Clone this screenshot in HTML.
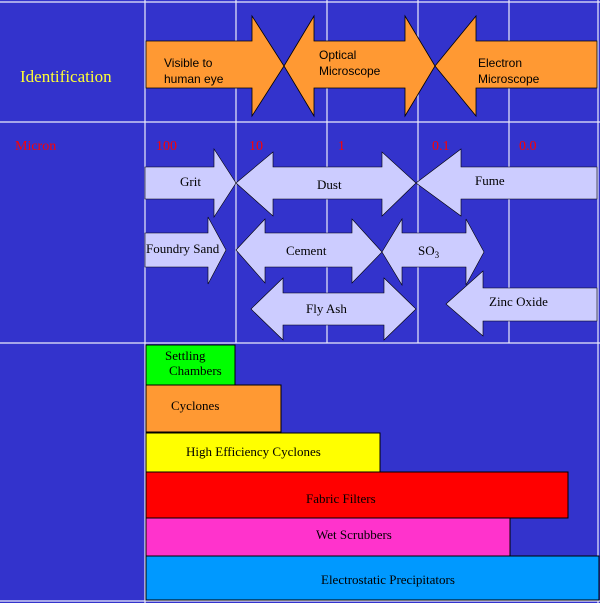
<!DOCTYPE html>
<html><head><meta charset="utf-8"><style>
html,body{margin:0;padding:0;background:#3333cc;}
svg{display:block;}
text{font-family:"Liberation Serif",serif;}
.s{font-family:"Liberation Sans",sans-serif;}
</style></head><body>
<svg width="600" height="603" viewBox="0 0 600 603" xmlns="http://www.w3.org/2000/svg">
<rect x="0" y="0" width="600" height="603" fill="#3333cc"/>
<g stroke="#ffffff" stroke-width="1.2" opacity="0.9">
<line x1="0" y1="2" x2="600" y2="2"/>
<line x1="0" y1="122" x2="600" y2="122"/>
<line x1="0" y1="343" x2="600" y2="343"/>
<line x1="0" y1="601" x2="600" y2="601"/>
<line x1="145" y1="0" x2="145" y2="603"/>
<line x1="236" y1="0" x2="236" y2="343"/>
<line x1="327" y1="0" x2="327" y2="343"/>
<line x1="418" y1="0" x2="418" y2="343"/>
<line x1="509" y1="0" x2="509" y2="343"/>
<line x1="598" y1="0" x2="598" y2="603"/>
</g>
<text x="20" y="82" font-size="17" fill="#ffff33">Identification</text>
<g fill="#ff9933" stroke="#000" stroke-width="0.8">
<polygon points="146,41 252,41 252,16 284,66 252,116 252,88 146,88"/>
<polygon points="284,66 314,16 314,41 405,41 405,16 435,66 405,116 405,88 314,88 314,116"/>
<polygon points="435,66 476,16 476,41 597,41 597,88 476,88 476,116"/>
</g>
<g font-size="12" fill="#000" class="s">
<text class="s" x="164" y="67">Visible to</text><text class="s" x="164" y="83">human eye</text>
<text class="s" x="319" y="59">Optical</text><text class="s" x="319" y="75">Microscope</text>
<text class="s" x="478" y="67">Electron</text><text class="s" x="478" y="83">Microscope</text>
</g>
<g font-size="14" fill="#ff0000">
<text x="15" y="150">Micron</text>
<text x="156" y="150">100</text>
<text x="249" y="150">10</text>
<text x="338" y="150">1</text>
<text x="432" y="150">0.1</text>
<text x="519" y="150">0.0</text>
</g>
<g fill="#ccccff" stroke="#000" stroke-width="0.6">
<polygon points="145,167 214,167 214,149 236,183 214,217 214,199 145,199"/>
<polygon points="236,183 273,152 273,167 382,167 382,152 416,183 382,216 382,199 273,199 273,216"/>
<polygon points="416,183 461,149 461,167 597,167 597,199 461,199 461,216"/>
<polygon points="145,233 208,233 208,217 226,250 208,284 208,267 145,267"/>
<polygon points="236,250 265,219 265,233 352,233 352,219 382,252 352,283 352,267 265,267 265,283"/>
<polygon points="382,252 402,219 402,233 466,233 466,219 484,252 466,285 466,267 402,267 402,285"/>
<polygon points="251,309 283,278 283,293 384,293 384,278 416,309 384,340 384,325 283,325 283,340"/>
<polygon points="446,304 483,271 483,288 597,288 597,321 483,321 483,336"/>
</g>
<g font-size="13" fill="#000">
<text x="180" y="186">Grit</text>
<text x="317" y="189">Dust</text>
<text x="475" y="185">Fume</text>
<text x="146" y="253">Foundry Sand</text>
<text x="286" y="255">Cement</text>
<text x="418" y="255">SO<tspan font-size="9" dy="3">3</tspan></text>
<text x="306" y="313">Fly Ash</text>
<text x="489" y="306">Zinc Oxide</text>
</g>
<g stroke="#000" stroke-width="1">
<rect x="146" y="345" width="89" height="40" fill="#00ff00"/>
<rect x="146" y="385" width="135" height="47" fill="#ff9933"/>
<rect x="146" y="433" width="234" height="39" fill="#ffff00"/>
<rect x="146" y="472" width="422" height="46" fill="#ff0000"/>
<rect x="146" y="518" width="364" height="38" fill="#ff33cc"/>
<rect x="146" y="556" width="453" height="44" fill="#0099ff"/>
</g>
<g font-size="13" fill="#000">
<text x="165" y="360">Settling</text><text x="169" y="375">Chambers</text>
<text x="171" y="410">Cyclones</text>
<text x="186" y="456">High Efficiency Cyclones</text>
<text x="306" y="503">Fabric Filters</text>
<text x="316" y="539">Wet Scrubbers</text>
<text x="321" y="584">Electrostatic Precipitators</text>
</g>
</svg>
</body></html>
